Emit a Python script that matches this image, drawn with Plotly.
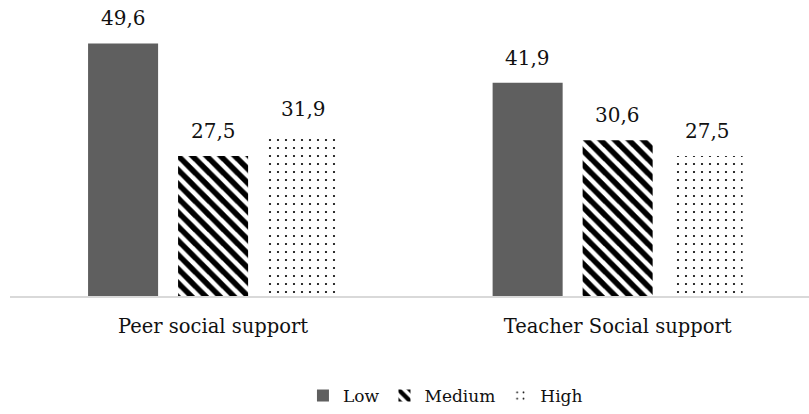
import plotly.graph_objects as go

categories = ["Peer social support", "Teacher Social support"]
low = [49.6, 41.9]
medium = [27.5, 30.6]
high = [31.9, 27.5]
series_names = ["Low", "Medium", "High"]

FONT = "DejaVu Serif"

fig = go.Figure()
fig.add_trace(go.Bar(
    name=series_names[0], x=categories, y=low,
    marker=dict(color="#5f5f5f", line=dict(width=0)),
))
fig.add_trace(go.Bar(
    name=series_names[1], x=categories, y=medium,
    marker=dict(color="white", line=dict(width=0),
                pattern=dict(shape="\\", fgcolor="#000000", bgcolor="white", fgopacity=1,
                             size=10, solidity=0.55, fillmode="replace")),
))
fig.add_trace(go.Bar(
    name=series_names[2], x=categories, y=high,
    marker=dict(color="white", line=dict(width=0),
                pattern=dict(shape=".", fgcolor="#000000", bgcolor="white", fgopacity=1,
                             size=8, solidity=0.06, fillmode="replace")),
))

shifts = [-90, 0, 90]
for vals, sh in zip([low, medium, high], shifts):
    for c, v in zip(categories, vals):
        fig.add_annotation(
            x=c, y=v, xref="x", yref="y",
            text=f"{v:.1f}".replace(".", ","),
            showarrow=False, yanchor="middle", yshift=25, xshift=sh,
            font=dict(family=FONT, size=20, color="#111111"),
        )

fig.update_layout(
    width=809, height=414,
    margin=dict(l=10, r=0, t=16, b=115),
    plot_bgcolor="white", paper_bgcolor="white",
    barmode="group", bargap=0.3325, bargroupgap=0.222,
    separators=",.",
    showlegend=True,
    font=dict(family=FONT),
    legend=dict(orientation="h", x=0.545, xanchor="center", y=-0.357, yanchor="middle",
                font=dict(family=FONT, size=17, color="#111111"),
                itemwidth=30, traceorder="normal"),
    xaxis=dict(range=[-0.502, 1.473], showline=True, linecolor="#d9d9d9", linewidth=2,
               showgrid=False, zeroline=False, ticks="",
               tickfont=dict(family=FONT, size=19.5, color="#111111"),
               ticklabelstandoff=12),
    yaxis=dict(range=[0, 55], visible=False, showgrid=False, zeroline=False),
)

fig.write_html("out.html")
